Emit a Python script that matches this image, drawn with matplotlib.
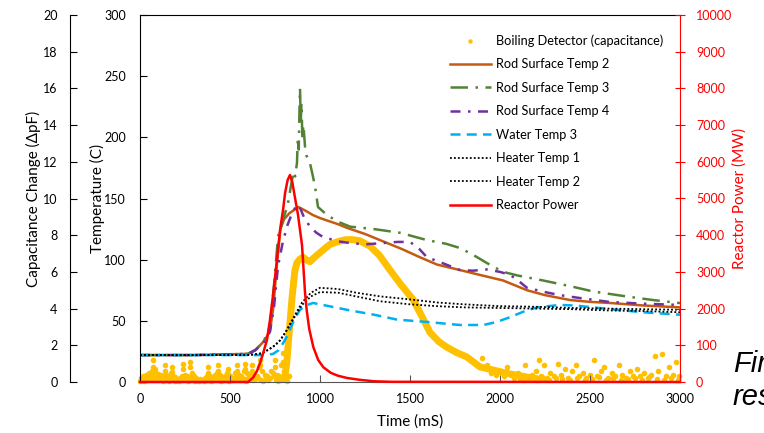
import matplotlib
matplotlib.use("Agg")
import matplotlib.pyplot as plt

plt.rcParams['font.family'] = ['Lato', 'DejaVu Sans']

# ---------------- data ----------------
rod2_t = [0, 300, 600, 640, 680, 700, 722, 740, 760, 780, 800, 830, 860, 880, 920, 960, 1000, 1100, 1150, 1250, 1333, 1450, 1555, 1650, 1778, 1889, 2017, 2150, 2250, 2389, 2500, 2611, 2800, 3000]
rod2 = [22, 22, 23, 26, 32, 36, 42, 60, 95, 125, 133, 138, 141, 143, 140, 136.5, 134, 129, 126, 121, 116, 109, 102, 96, 91.5, 87.5, 83, 75, 71, 67, 65.5, 64.6, 62.5, 61]

rod3_t = [0, 300, 600, 640, 680, 700, 722, 745, 767, 800, 822, 844, 855, 862, 872, 877, 882, 886, 889, 893, 897, 902, 908, 917, 925, 935, 944, 958, 972, 989, 1039, 1100, 1167, 1300, 1444, 1594, 1700, 1778, 1850, 1930, 2017, 2100, 2239, 2400, 2517, 2700, 2850, 3000]
rod3 = [22, 22, 23, 26, 32, 37, 45, 80, 119, 135, 146, 165, 172, 168, 179, 200, 190, 222, 240, 212, 228, 200, 210, 192, 185, 182, 179, 170, 160, 143, 136.5, 131, 127, 125, 122, 116, 113, 109.5, 104, 97, 90, 87, 83, 78, 74, 70, 67, 64.5]

rod4_t = [0, 300, 600, 640, 680, 700, 722, 745, 767, 790, 816, 845, 872, 890, 910, 944, 980, 1017, 1100, 1167, 1250, 1352, 1430, 1500, 1550, 1594, 1667, 1778, 1850, 1926, 2000, 2056, 2100, 2150, 2250, 2333, 2450, 2611, 2800, 3000]
rod4 = [22, 22, 23, 26, 31, 35, 41, 62, 95, 112, 127, 138, 145, 142, 135, 127, 122, 118.5, 115, 113.6, 112.5, 113.6, 114.5, 114.5, 109, 102, 98, 91.5, 91, 92, 90, 87.5, 83, 77, 73.5, 71, 68.5, 65.4, 64, 63]

water3_t = [0, 300, 600, 700, 740, 770, 796, 815, 833, 860, 889, 920, 961, 1050, 1150, 1300, 1428, 1600, 1778, 1907, 1980, 2056, 2130, 2205, 2333, 2420, 2517, 2650, 2796, 3000]
water3 = [22, 22, 22, 22, 23, 26, 32, 37, 43, 52, 59, 62.5, 64.6, 62, 59, 55, 51, 49, 46.6, 46.6, 49, 53, 57.5, 61, 63, 62.5, 61, 59, 57, 55]

heater_t = [0, 300, 600, 660, 685, 720, 750, 778, 810, 850, 900, 950, 1000, 1100, 1200, 1333, 1500, 1650, 1800, 2000, 2200, 2400, 2600, 2800, 3000]
heater1 = [22, 22, 22, 23, 24, 27, 30, 34, 41, 52, 65, 73, 77, 76, 73, 70, 67.5, 65, 63.5, 62, 61.5, 60.5, 60, 59.5, 59]
heater2 = [22, 22, 22, 23, 24, 27, 30, 34, 41, 51, 63, 70, 73.5, 73, 70, 66, 63.5, 62, 61, 60.5, 60, 59.5, 58.5, 58, 57]

power_t = [0, 400, 600, 628, 650, 667, 685, 705, 722, 740, 760, 778, 795, 806, 820, 833, 846, 860, 878, 900, 917, 926, 940, 963, 990, 1019, 1060, 1100, 1150, 1220, 1300, 1400, 3000]
power = [0, 0, 0, 120, 300, 520, 800, 1140, 1690, 2400, 3300, 4140, 4700, 5150, 5500, 5640, 5450, 5050, 4550, 3730, 2425, 1960, 1450, 950, 600, 400, 250, 170, 110, 60, 20, 5, 0]

# boiling detector: main trace
boil_t = [805, 815, 822, 833, 844, 852, 861, 872, 889, 906, 925, 944, 970, 1000, 1030, 1056, 1100, 1140, 1178, 1220, 1278, 1330, 1389, 1450, 1517, 1570, 1611, 1660, 1704, 1760, 1815, 1889, 1963, 2050, 2150, 2250]
boil_c = [0.3, 1.0, 1.9, 3.2, 4.5, 5.3, 6.1, 6.5, 6.7, 6.8, 6.65, 6.55, 6.8, 7.05, 7.3, 7.5, 7.65, 7.75, 7.76, 7.7, 7.4, 6.9, 6.1, 5.3, 4.5, 3.5, 2.7, 2.2, 1.9, 1.6, 1.37, 0.82, 0.65, 0.45, 0.27, 0.1]

# boiling detector: scattered readings
noise_t = [3, 10, 18, 27, 35, 42, 50, 58, 66, 74, 74, 82, 90, 98, 106, 114, 122, 130, 139, 139, 147, 155, 163, 170, 176, 176, 184, 192, 200, 210, 220, 232, 240, 240, 250, 260, 270, 278, 278, 288, 298, 310, 322, 335, 348, 360, 370, 378, 378, 390, 402, 414, 425, 433, 433, 445, 458, 470, 482, 489, 489, 500, 512, 525, 537, 537, 550, 562, 575, 583, 583, 595, 607, 622, 622, 635, 648, 660, 667, 667, 680, 692, 705, 717, 730, 740, 750, 750, 762, 772, 783, 794, 794, 800, 812, 825,
           0, 8, 22, 31, 46, 54, 62, 70, 78, 86, 94, 102, 110, 118, 126, 134, 143, 151, 159, 167, 180, 188, 196, 205, 215, 226, 236, 245, 255, 265, 274, 283, 293, 304, 316, 328, 341, 354, 365, 374, 384, 396, 408, 419, 429, 440, 451, 464, 476, 486, 495, 506, 518, 530, 543, 556, 568, 580, 590, 601, 613, 628, 641, 654, 672, 686, 698, 711, 724, 745, 757, 768, 778, 788, 806, 818,
           1900, 1925, 1950, 1975, 2000, 2020, 2040, 2060, 2080, 2100, 2120, 2140, 2160, 2180, 2200, 2215, 2230, 2245, 2260, 2280, 2300, 2320, 2340, 2360, 2380, 2400, 2420, 2440, 2460, 2480, 2500, 2520, 2540, 2560, 2580, 2600, 2620, 2640, 2660, 2680, 2700, 2720, 2740, 2760, 2780, 2800, 2820, 2840, 2860, 2880, 2900, 2920, 2940, 2960, 2980, 2995,
           2110, 2135, 2170, 2205, 2235, 2270, 2310, 2345, 2390, 2430, 2470, 2510, 2550, 2590, 2630, 2670, 2710, 2750, 2790, 2830, 2870, 2910, 2950, 2990]
noise_c = [0.2, 0.1, 0.3, 0.15, 0.4, 0.2, 0.5, 0.3, 0.6, 1.2, 0.8, 0.7, 0.5, 0.45, 0.3, 0.4, 0.35, 0.25, 0.9, 0.6, 0.4, 0.3, 0.2, 0.5, 0.8, 0.55, 0.3, 0.25, 0.15, 0.1, 0.2, 0.3, 1.0, 0.7, 0.4, 0.3, 0.2, 1.1, 0.8, 0.5, 0.3, 0.2, 0.1, 0.15, 0.1, 0.2, 0.3, 0.8, 0.5, 0.3, 0.2, 0.4, 0.5, 0.9, 0.6, 0.4, 0.2, 0.3, 0.5, 0.7, 0.45, 0.3, 0.2, 0.5, 0.9, 0.6, 0.4, 0.3, 0.6, 1.0, 0.7, 0.5, 0.4, 0.9, 0.6, 0.4, 0.3, 0.8, 1.2, 0.9, 0.6, 0.4, 0.3, 0.2, 0.6, 0.5, 1.2, 0.8, 0.4, 0.3, 0.9, 1.6, 1.1, 0.6, 0.4, 0.3,
           0.05, 0.1, 0.05, 0.2, 0.1, 0.35, 0.15, 0.4, 0.1, 0.3, 0.2, 0.1, 0.25, 0.15, 0.05, 0.2, 0.3, 0.1, 0.05, 0.2, 0.35, 0.1, 0.05, 0.1, 0.05, 0.2, 0.1, 0.3, 0.2, 0.05, 0.15, 0.3, 0.2, 0.05, 0.1, 0.05, 0.1, 0.05, 0.15, 0.1, 0.2, 0.05, 0.1, 0.15, 0.25, 0.1, 0.05, 0.2, 0.1, 0.25, 0.05, 0.15, 0.1, 0.2, 0.3, 0.1, 0.2, 0.15, 0.05, 0.2, 0.3, 0.1, 0.15, 0.2, 0.1, 0.05, 0.15, 0.1, 0.2, 0.3, 0.1, 0.05, 0.2, 0.1, 0.15, 0.05,
           1.3, 0.9, 0.5, 0.4, 0.6, 0.3, 0.8, 0.4, 0.2, 0.5, 0.3, 0.9, 0.2, 0.4, 0.6, 1.2, 0.3, 0.9, 0.2, 0.5, 0.3, 1.0, 0.4, 0.7, 0.2, 0.6, 0.9, 0.3, 0.5, 0.2, 0.4, 1.2, 0.3, 0.6, 0.8, 0.2, 0.5, 0.3, 0.9, 0.4, 0.2, 0.6, 0.3, 0.7, 0.3, 0.5, 0.2, 0.4, 1.4, 0.6, 1.5, 0.3, 0.8, 0.4, 1.1, 0.3,
           0.15, 0.1, 0.2, 0.1, 0.25, 0.1, 0.2, 0.15, 0.1, 0.2, 0.1, 0.15, 0.25, 0.1, 0.2, 0.1, 0.15, 0.2, 0.1, 0.25, 0.15, 0.1, 0.2, 0.1]

x_ticks = [0, 500, 1000, 1500, 2000, 2500, 3000]
temp_ticks = [0, 50, 100, 150, 200, 250, 300]
cap_ticks = [0, 2, 4, 6, 8, 10, 12, 14, 16, 18, 20]
power_ticks = [0, 1000, 2000, 3000, 4000, 5000, 6000, 7000, 8000, 9000, 10000]
power_labels = ['0', '100', '2000', '3000', '4000', '5000', '6000', '7000', '8000', '9000', '10000']

# ---------------- figure ----------------
W, H = 764, 433
fig = plt.figure(figsize=(W / 100, H / 100), dpi=100)
rect = [140 / W, 1 - 382 / H, 540 / W, 367 / H]

ax_cap = fig.add_axes(rect)
ax = fig.add_axes(rect, sharex=ax_cap)
ax_pow = fig.add_axes(rect, sharex=ax_cap)
for a in (ax, ax_pow):
    a.patch.set_visible(False)

# capacitance axis (outer left)
for s in ('top', 'right', 'bottom'):
    ax_cap.spines[s].set_visible(False)
ax_cap.spines['left'].set_position(('axes', (70 - 140) / 540))
ax_cap.set_ylim(0, 20)
ax_cap.set_yticks(cap_ticks)
ax_cap.tick_params(axis='y', direction='in', length=5, pad=9, labelsize=9)
ax_cap.tick_params(axis='x', bottom=False, labelbottom=False)
ax_cap.set_ylabel('Capacitance Change (\u0394pF)', fontsize=11)
ax_cap.yaxis.set_label_coords((41 - 140) / 540, 0.5)

# temperature axis (main)
ax.spines['right'].set_visible(False)
ax.spines['bottom'].set_color('#555555')
ax.set_xlim(0, 3000)
ax.set_ylim(0, 300)
ax.set_xticks(x_ticks)
ax.set_yticks(temp_ticks)
ax.tick_params(axis='y', direction='in', length=5, pad=10, labelsize=9)
ax.tick_params(axis='x', direction='in', length=5, pad=8, labelsize=9, color='#555555')
ax.set_ylabel('Temperature (C)', fontsize=11)
ax.yaxis.set_label_coords((105 - 140) / 540, 0.5)
ax.set_xlabel('Time (mS)', fontsize=11)
ax.xaxis.set_label_coords(0.5, (382 - 414) / 367)

# power axis (right)
for s in ('top', 'left', 'bottom'):
    ax_pow.spines[s].set_visible(False)
ax_pow.spines['right'].set_color('red')
ax_pow.yaxis.tick_right()
ax_pow.yaxis.set_label_position('right')
ax_pow.set_ylim(0, 10000)
ax_pow.set_yticks(power_ticks)
ax_pow.set_yticklabels(power_labels)
ax_pow.tick_params(axis='y', direction='inout', length=7, pad=8, labelsize=9, colors='red')
ax_pow.tick_params(axis='x', bottom=False, labelbottom=False)
ax_pow.set_ylabel('Reactor Power (MW)', fontsize=11, color='red')
ax_pow.yaxis.set_label_coords((732 - 140) / 540, 0.5)

# ---------------- series ----------------
yellow = '#FFC000'
ax_cap.plot(boil_t, boil_c, color=yellow, lw=5, solid_capstyle='round', zorder=2)
h_boil = ax_cap.scatter(noise_t, noise_c, s=16, color=yellow, linewidths=0, zorder=2,
                        label='Boiling Detector (capacitance)', clip_on=False)

h2, = ax.plot(rod2_t, rod2, color='#C55A11', lw=1.8, label='Rod Surface Temp 2')
h3, = ax.plot(rod3_t, rod3, color='#548235', lw=1.8, dashes=(7, 3, 1, 3), label='Rod Surface Temp 3')
h4, = ax.plot(rod4_t, rod4, color='#7030A0', lw=1.8, dashes=(4, 3, 1, 3), label='Rod Surface Temp 4')
h5, = ax.plot(water3_t, water3, color='#00B0F0', lw=1.8, dashes=(4, 2.5), label='Water Temp 3')
h6, = ax.plot(heater_t, heater1, color='black', lw=1.3, dashes=(1, 1.2), label='Heater Temp 1')
h7, = ax.plot(heater_t, heater2, color='black', lw=1.3, dashes=(1, 1.2), label='Heater Temp 2')
h8, = ax_pow.plot(power_t, power, color='red', lw=1.8, label='Reactor Power', clip_on=False)

handles = [h_boil, h2, h3, h4, h5, h6, h7, h8]
leg = ax_pow.legend(handles=handles, loc='upper left', bbox_to_anchor=(450 / W, 1 - 34 / H),
                    bbox_transform=fig.transFigure, frameon=False, fontsize=9.2,
                    handlelength=3.2, labelspacing=0.9, scatterpoints=1, borderpad=0,
                    borderaxespad=0, handletextpad=0.4, markerscale=0.8)

# cut-off caption at right edge (as in the reference)
fig.text(733 / W, 1 - 372 / H, 'First', fontsize=21, style='italic',
         family='Liberation Sans', va='baseline', ha='left')
fig.text(733 / W, 1 - 405 / H, 'results', fontsize=21, style='italic',
         family='Liberation Sans', va='baseline', ha='left')

fig.savefig('out.png', dpi=100)
